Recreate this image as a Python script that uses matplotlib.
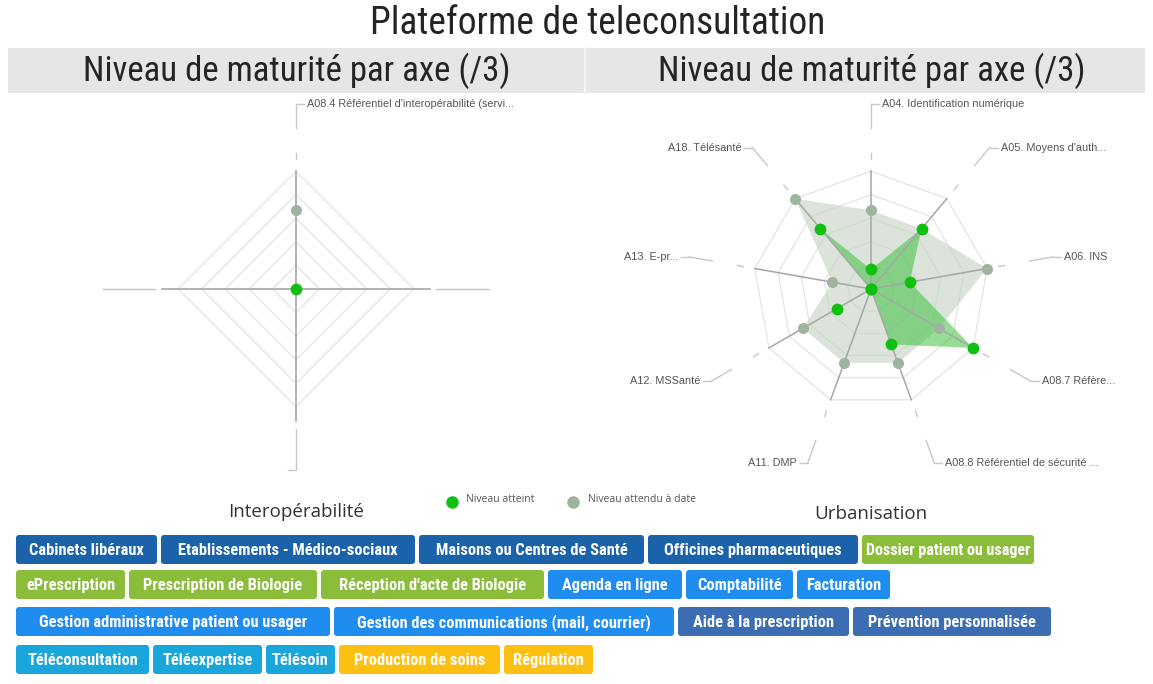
import matplotlib
matplotlib.use('Agg')
import matplotlib.pyplot as plt
from matplotlib import font_manager
from matplotlib.patches import FancyBboxPatch, Rectangle
import numpy as np

plt.rcParams['font.family'] = ['Liberation Sans', 'DejaVu Sans']
UI = ['Open Sans', 'DejaVu Sans']


def pick_narrow():
    # look for a condensed face among the installed fonts, else Liberation Sans
    fonts = font_manager.fontManager.ttflist
    for want in ['Roboto Condensed', 'DejaVu Sans Condensed', 'Liberation Sans Narrow', 'Open Sans Condensed']:
        for f in fonts:
            if f.name == want:
                return {'family': [want, 'DejaVu Sans']}
    for f in fonts:
        if f.stretch in ('condensed', 'semi-condensed') or 'Condensed' in f.name or 'Narrow' in f.name:
            return {'family': [f.name, 'DejaVu Sans'], 'fontstretch': f.stretch}
    return {'family': ['Liberation Sans', 'DejaVu Sans']}


NARROW = pick_narrow()

# ----------------------- #
# Data
# ----------------------- #
title = "Plateforme de teleconsultation"
panel_title = "Niveau de maturité par axe (/3)"

left_axes = ["A08.4 Référentiel d'interopérabilité (servi..."]
left_atteint = [0]
left_attendu = [2]

right_axes = ["A04. Identification numérique", "A05. Moyens d'auth...", "A06. INS",
              "A08.7 Réfère...", "A08.8 Référentiel de sécurité ...", "A11. DMP",
              "A12. MSSanté", "A13. E-pr...", "A18. Télésanté"]
right_atteint = [0.5, 2, 1, 3, 1.5, 0, 1, 0, 2]
right_attendu = [2, 2, 3, 2, 2, 2, 2, 1, 3]

legend_labels = ["Niveau atteint", "Niveau attendu à date"]
section_labels = ["Interopérabilité", "Urbanisation"]

tag_labels = ["Cabinets libéraux", "Etablissements - Médico-sociaux", "Maisons ou Centres de Santé",
              "Officines pharmaceutiques", "Dossier patient ou usager",
              "ePrescription", "Prescription de Biologie", "Réception d'acte de Biologie",
              "Agenda en ligne", "Comptabilité", "Facturation",
              "Gestion administrative patient ou usager", "Gestion des communications (mail, courrier)",
              "Aide à la prescription", "Prévention personnalisée",
              "Téléconsultation", "Téléexpertise", "Télésoin", "Production de soins", "Régulation"]
tag_groups = ["structure", "structure", "structure", "structure", "medical",
              "medical", "medical", "medical", "gestion", "gestion", "gestion",
              "gestion", "gestion", "prevention", "prevention",
              "telemedecine", "telemedecine", "telemedecine", "soins", "soins"]
tags_per_row = [5, 6, 4, 5]

group_colors = {"structure": "#1a63ab", "medical": "#8cbd3a", "gestion": "#1f8cf0",
                "prevention": "#3c6db3", "telemedecine": "#19a6da", "soins": "#fdc010"}

# tag widths in pixels, row by row (layout)
tag_widths = [141, 254, 225, 210, 172,
              109, 188, 223, 134, 107, 93,
              314, 340, 171, 198,
              133, 109, 69, 161, 89]

GREEN = '#10c010'
GRAYDOT = '#9fb4a0'
GRID = '#e6e6e6'
SPOKE = '#a6a6a6'
LEAD = '#c8c8c8'
LABEL = '#555555'

# ----------------------- #
# Figure
# ----------------------- #
W, H = 1153, 684
fig = plt.figure(figsize=(W / 100, H / 100), dpi=100)
bg = fig.add_axes([0, 0, 1, 1])
bg.set_xlim(0, W)
bg.set_ylim(H, 0)
bg.axis('off')
renderer = fig.canvas.get_renderer()

SCALE = 39.3  # pixels per maturity level


def radar_axes(cx, cy, x0, x1, y0, y1):
    ax = fig.add_axes([x0 / W, 1 - y1 / H, (x1 - x0) / W, (y1 - y0) / H])
    ax.set_xlim((x0 - cx) / SCALE, (x1 - cx) / SCALE)
    ax.set_ylim((cy - y1) / SCALE, (cy - y0) / SCALE)
    ax.axis('off')
    ax.patch.set_alpha(0)
    return ax


def fit_text(t, max_w, size):
    # shrink a text until it fits in max_w pixels
    t.set_fontsize(size)
    while t.get_window_extent(renderer).width > max_w and size > 6:
        size -= 0.25
        t.set_fontsize(size)


def leader(ax, ux, uy, text, r_end=4.7):
    ax.plot([3.3 * ux, 3.45 * ux], [3.3 * uy, 3.45 * uy], color=LEAD, lw=1)
    ex, ey = r_end * ux, r_end * uy
    ax.plot([4.1 * ux, ex], [4.1 * uy, ey], color=LEAD, lw=1)
    side = 1 if ux > -1e-6 else -1
    ax.plot([ex, ex + side * 0.2], [ey, ey], color=LEAD, lw=1)
    ax.text(ex + side * 0.28, ey, text, ha='left' if side > 0 else 'right', va='center',
            fontsize=7.8, color=LABEL)


def plot_values(ax, ux, uy, atteint, attendu):
    atteint = np.array(atteint, dtype=float)
    attendu = np.array(attendu, dtype=float)
    ax.fill(ux * attendu, uy * attendu, color='#c8d4c8', alpha=0.65, lw=0, zorder=1)
    ax.fill(ux * atteint, uy * atteint, color='#2fbf2f', alpha=0.5, lw=0, zorder=1.5)
    ax.plot(ux * attendu, uy * attendu, 'o', color=GRAYDOT, ms=8, mew=0, zorder=4)
    ax.plot(ux * atteint, uy * atteint, 'o', color=GREEN, ms=8.5, mew=0, zorder=5)


levels = np.linspace(0.6, 3.0, 5)

# ---- left radar (single axis, drawn as a diamond) ----
axL = radar_axes(296, 289, 90, 590, 95, 480)
dth = 2 * np.pi * np.arange(4) / 4
dx, dy = np.sin(dth), np.cos(dth)
for lv in levels:
    axL.plot(np.append(dx, dx[0]) * lv, np.append(dy, dy[0]) * lv, color=GRID, lw=1, zorder=0)
axL.plot([0, 0], [0, 3.0], color=SPOKE, lw=1.2, zorder=2)
axL.plot([-3.4, 3.4], [0, 0], color=SPOKE, lw=1.2, zorder=2)
axL.plot([0, 0], [0, -3.35], color=SPOKE, lw=1.2, zorder=2)
axL.plot([-4.9, -3.6], [0, 0], color=LEAD, lw=1)
axL.plot([3.55, 4.9], [0, 0], color=LEAD, lw=1)
axL.plot([-0.2, 0, 0], [-4.6, -4.6, -3.55], color=LEAD, lw=1)
leader(axL, 0.0, 1.0, left_axes[0])
plot_values(axL, np.array([0.0]), np.array([1.0]), left_atteint, left_attendu)

# ---- right radar ----
axR = radar_axes(871, 289, 590, 1150, 95, 480)
n = len(right_axes)
th = 2 * np.pi * np.arange(n) / n
ux, uy = np.sin(th), np.cos(th)
for lv in levels:
    axR.plot(np.append(ux, ux[0]) * lv, np.append(uy, uy[0]) * lv, color=GRID, lw=1, zorder=0)
for k in range(n):
    axR.plot([0, 3.0 * ux[k]], [0, 3.0 * uy[k]], color=SPOKE, lw=1.1, zorder=2)
    leader(axR, ux[k], uy[k], right_axes[k])
plot_values(axR, ux, uy, right_atteint, right_attendu)

# ----------------------- #
# Titles & headers
# ----------------------- #
t = bg.text(598, 23, title, ha='center', va='center', color='#252423', **NARROW)
fit_text(t, 466, 27)
bg.add_patch(Rectangle((8, 48), 1137, 45, fc='#e6e6e6', ec='none'))
bg.plot([585, 585], [48, 93], color='#f4f4f4', lw=1.5)
for cx in [297, 872]:
    t = bg.text(cx, 71, panel_title, ha='center', va='center', color='#252423', **NARROW)
    fit_text(t, 432, 25)

# legend
bg.plot([452], [502], 'o', color=GREEN, ms=9, mew=0)
bg.text(466, 500, legend_labels[0], ha='left', va='center', fontsize=7.5, color=LABEL, family=UI)
bg.plot([573], [502], 'o', color=GRAYDOT, ms=9, mew=0)
bg.text(588, 500, legend_labels[1], ha='left', va='center', fontsize=7.5, color=LABEL, family=UI)

bg.text(296, 512, section_labels[0], ha='center', va='center', fontsize=13.5, color='#333333', family=UI)
bg.text(871, 514, section_labels[1], ha='center', va='center', fontsize=13.5, color='#333333', family=UI)

# ----------------------- #
# Tags
# ----------------------- #
row_tops = [535, 570, 607, 645]
tag_h = 29
i0 = 0
for r, count in enumerate(tags_per_row):
    x = 16
    for k in range(i0, i0 + count):
        w = tag_widths[k]
        bg.add_patch(FancyBboxPatch((x, row_tops[r]), w, tag_h, boxstyle='round,pad=0,rounding_size=3',
                                    fc=group_colors[tag_groups[k]], ec='none', zorder=2))
        t = bg.text(x + w / 2, row_tops[r] + tag_h / 2 + 5.5, tag_labels[k], ha='center',
                    va='baseline', fontweight='bold', color='white', zorder=3, **NARROW)
        fit_text(t, w - 6, 11.8)
        x += w + 4
    i0 += count

fig.savefig('out.png', dpi=100)
